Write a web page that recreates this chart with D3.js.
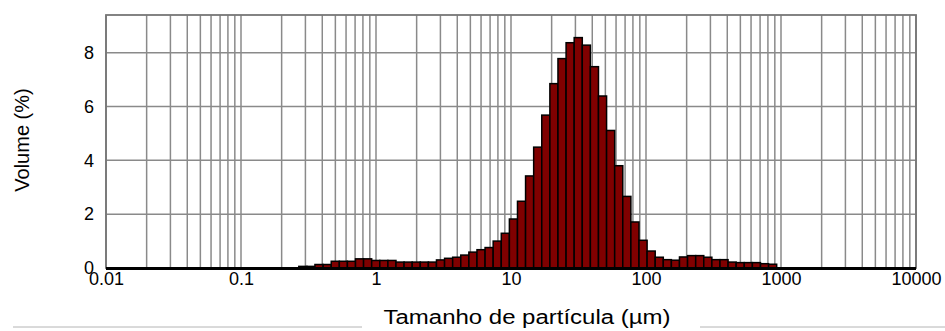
<!DOCTYPE html>
<html>
<head>
<meta charset="utf-8">
<script src="https://cdn.jsdelivr.net/npm/d3@7"></script>
<style>
  html, body { margin: 0; padding: 0; background: #fff; }
  svg { display: block; font-family: "Liberation Sans", Arial, sans-serif; }
</style>
</head>
<body>
<svg id="chart" width="945" height="331"></svg>
<script>
// Size classes (µm): bin edges, one more than there are bins
const sizeEdges = [
  0.268, 0.308, 0.353, 0.406, 0.466, 0.535, 0.614, 0.705, 0.809, 0.929,
  1.067, 1.225, 1.406, 1.614, 1.854, 2.128, 2.443, 2.805, 3.221, 3.698,
  4.246, 4.875, 5.598, 6.427, 7.379, 8.472, 9.728, 11.17, 12.82, 14.72,
  16.90, 19.41, 22.28, 25.59, 29.38, 33.73, 38.73, 44.46, 51.05, 58.61,
  67.30, 77.27, 88.72, 101.9, 117.0, 134.3, 154.2, 177.0, 203.2, 233.4,
  267.9, 307.6, 353.2, 405.5, 465.6, 534.6, 613.8, 704.7, 809.1, 929.0
];

// Volume fraction (%) in each size class
const volumePct = [
  0.06, 0.06, 0.13, 0.13, 0.25, 0.25, 0.25, 0.34, 0.34, 0.28,
  0.28, 0.28, 0.22, 0.22, 0.22, 0.22, 0.22, 0.30, 0.36, 0.40,
  0.48, 0.59, 0.68, 0.76, 1.00, 1.29, 1.82, 2.48, 3.42, 4.49,
  5.68, 6.85, 7.78, 8.37, 8.56, 8.28, 7.48, 6.39, 5.11, 3.80,
  2.66, 1.71, 1.03, 0.63, 0.40, 0.31, 0.29, 0.41, 0.46, 0.46,
  0.40, 0.31, 0.31, 0.22, 0.20, 0.20, 0.20, 0.16, 0.14
];

const xTickValues = [0.01, 0.1, 1, 10, 100, 1000, 10000];
const xTickLabels = ["0.01", "0.1", "1", "10", "100", "1000", "10000"];
const yTickValues = [0, 2, 4, 6, 8];
const yTickLabels = ["0", "2", "4", "6", "8"];

const xTitle = "Tamanho de partícula (\u00B5m)";
const yTitle = "Volume (%)";

const plot = { left: 106, top: 15, right: 916, bottom: 268 };

const svg = d3.select("#chart");

const x = d3.scaleLog().domain([0.01, 10000]).range([plot.left, plot.right]);
const y = d3.scaleLinear().domain([0, 9.4]).range([plot.bottom, plot.top]);

const gridColor = "#8a8a8a";

// Grid: every 1..9 step of each decade, and every 2 % of volume
const grid = svg.append("g").attr("class", "grid");
grid.selectAll("line.vx")
  .data(x.ticks())
  .join("line")
  .attr("class", "vx")
  .attr("x1", d => x(d)).attr("x2", d => x(d))
  .attr("y1", plot.top).attr("y2", plot.bottom)
  .attr("stroke", gridColor).attr("stroke-width", 1.5);

grid.selectAll("line.hy")
  .data(yTickValues.filter(v => v > 0))
  .join("line")
  .attr("class", "hy")
  .attr("x1", plot.left).attr("x2", plot.right)
  .attr("y1", d => y(d)).attr("y2", d => y(d))
  .attr("stroke", gridColor).attr("stroke-width", 1.5);

// Plot frame
svg.append("rect")
  .attr("x", plot.left).attr("y", plot.top)
  .attr("width", plot.right - plot.left).attr("height", plot.bottom - plot.top)
  .attr("fill", "none").attr("stroke", "#777").attr("stroke-width", 1.8);

// Histogram bars
const bins = volumePct.map((v, i) => ({ lo: sizeEdges[i], hi: sizeEdges[i + 1], v }));
svg.append("g").attr("class", "bars")
  .selectAll("rect")
  .data(bins)
  .join("rect")
  .attr("x", d => x(d.lo))
  .attr("width", d => x(d.hi) - x(d.lo))
  .attr("y", d => y(d.v))
  .attr("height", d => y(0) - y(d.v))
  .attr("fill", "#800000")
  .attr("stroke", "#000")
  .attr("stroke-width", 1.5);

// Zero line
svg.append("line")
  .attr("x1", plot.left).attr("x2", plot.right)
  .attr("y1", y(0) + 0.5).attr("y2", y(0) + 0.5)
  .attr("stroke", "#000").attr("stroke-width", 3);

// Axes (labels only; the frame and grid carry the lines)
const xAxis = d3.axisBottom(x)
  .tickValues(xTickValues)
  .tickFormat((d, i) => xTickLabels[i])
  .tickSize(0).tickPadding(0);
const gx = svg.append("g")
  .attr("transform", `translate(0,${plot.bottom})`)
  .call(xAxis);
gx.select(".domain").remove();
gx.selectAll("text")
  .attr("dy", null).attr("y", 17)
  .attr("font-size", 18).attr("font-family", "Liberation Sans, Arial, sans-serif")
  .attr("fill", "#000");

const yAxis = d3.axisLeft(y)
  .tickValues(yTickValues)
  .tickFormat((d, i) => yTickLabels[i])
  .tickSize(0).tickPadding(12);
const gy = svg.append("g")
  .attr("transform", `translate(${plot.left},0)`)
  .call(yAxis);
gy.select(".domain").remove();
gy.selectAll("text")
  .attr("font-size", 18).attr("font-family", "Liberation Sans, Arial, sans-serif")
  .attr("fill", "#000");

// Axis titles
svg.append("text")
  .attr("transform", `translate(29,140) rotate(-90)`)
  .attr("text-anchor", "middle")
  .attr("font-size", 20)
  .attr("fill", "#000")
  .text(yTitle);

svg.append("text")
  .attr("x", 527).attr("y", 324)
  .attr("text-anchor", "middle")
  .attr("font-size", 20)
  .attr("textLength", 287)
  .attr("lengthAdjust", "spacingAndGlyphs")
  .attr("fill", "#000")
  .text(xTitle);

// Rule on either side of the x title
const rules = [[13, 362], [700, 945]];
svg.append("g").selectAll("line")
  .data(rules)
  .join("line")
  .attr("x1", d => d[0]).attr("x2", d => d[1])
  .attr("y1", 327).attr("y2", 327)
  .attr("stroke", "#b4b4b4").attr("stroke-width", 1);
</script>
</body>
</html>
